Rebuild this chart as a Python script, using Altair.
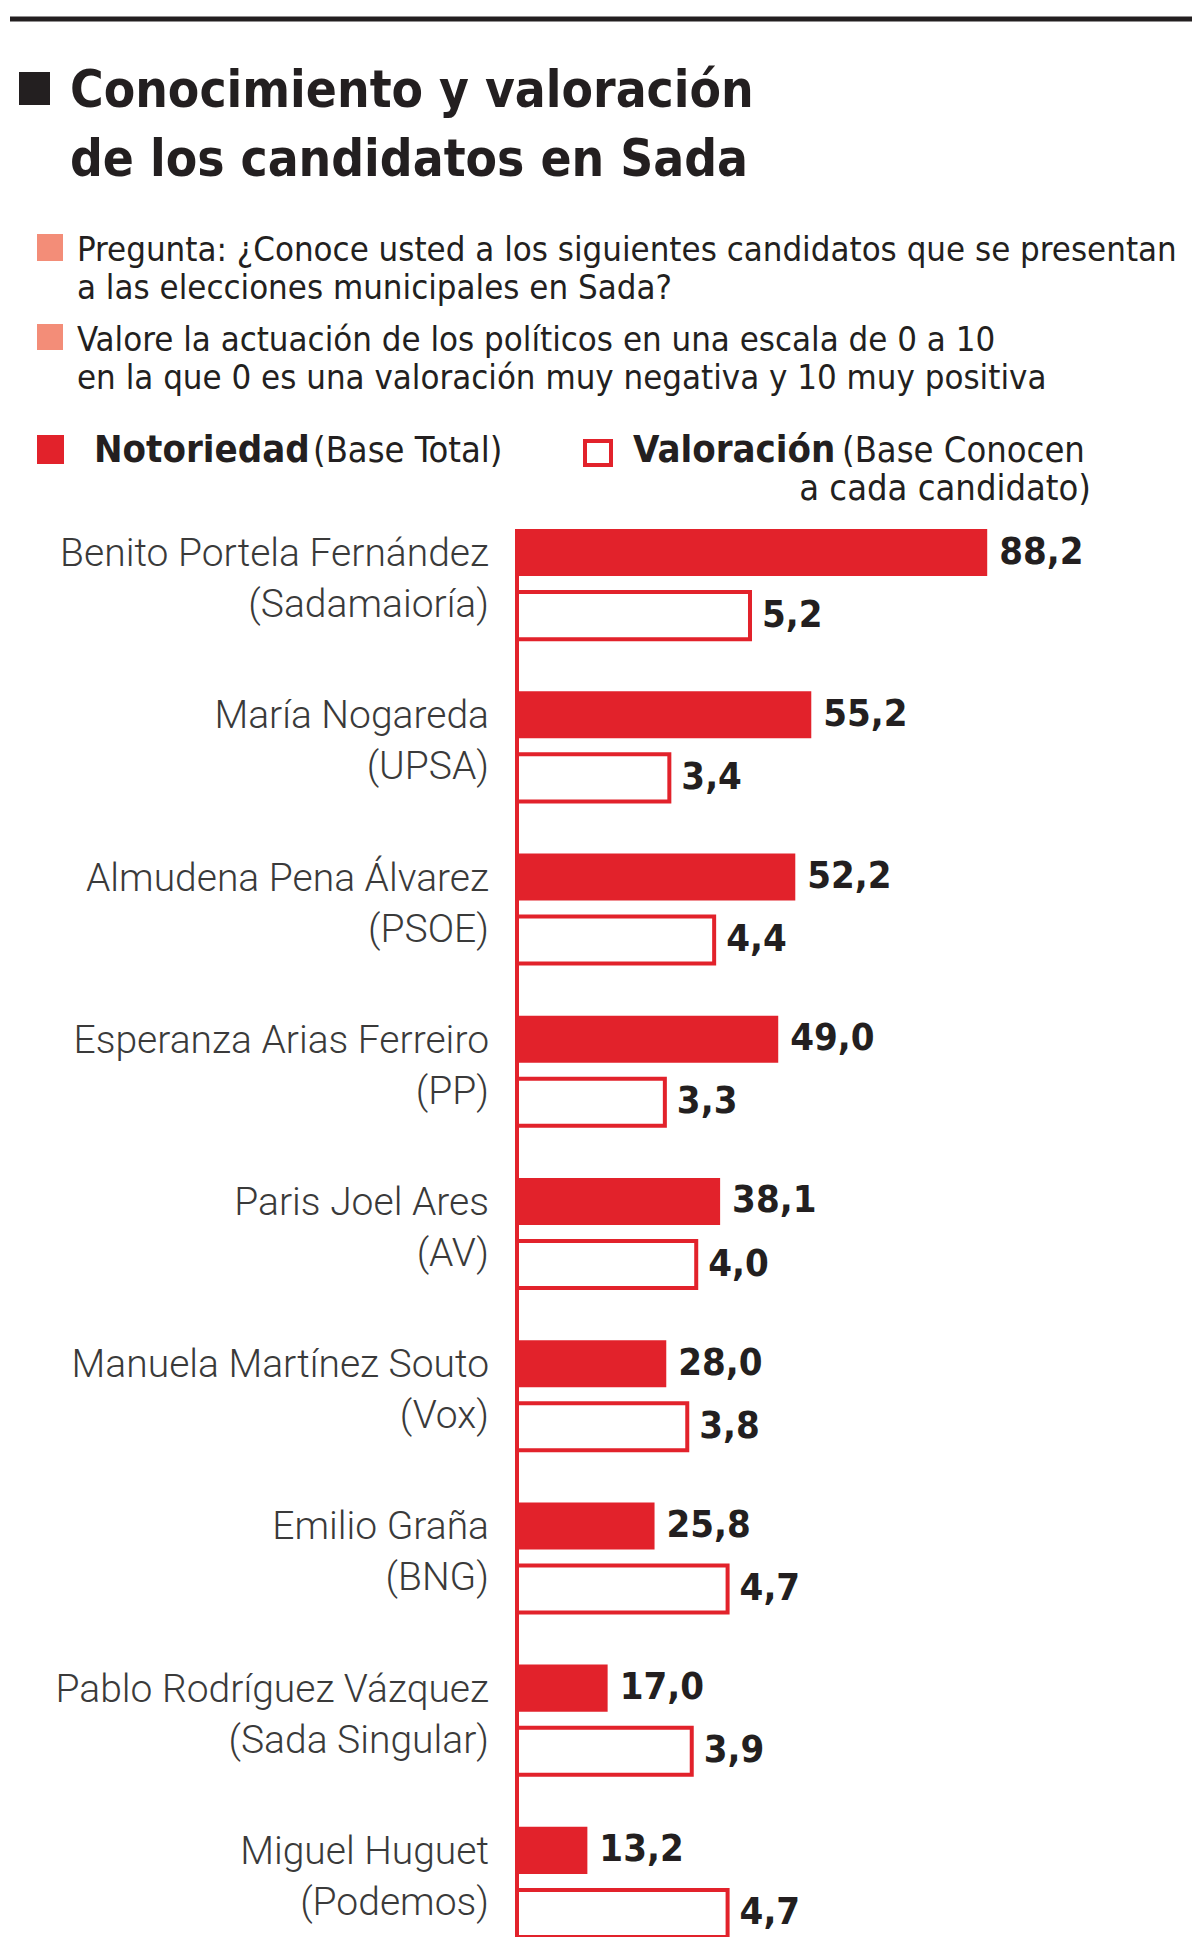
import altair as alt
import pandas as pd

# ---------------- data ----------------
candidatos = ["Benito Portela Fernández", "María Nogareda", "Almudena Pena Álvarez",
              "Esperanza Arias Ferreiro", "Paris Joel Ares", "Manuela Martínez Souto",
              "Emilio Graña", "Pablo Rodríguez Vázquez", "Miguel Huguet"]
partidos = ["(Sadamaioría)", "(UPSA)", "(PSOE)", "(PP)", "(AV)", "(Vox)", "(BNG)",
            "(Sada Singular)", "(Podemos)"]
notoriedad = [88.2, 55.2, 52.2, 49.0, 38.1, 28.0, 25.8, 17.0, 13.2]
valoracion = [5.2, 3.4, 4.4, 3.3, 4.0, 3.8, 4.7, 3.9, 4.7]

titulo = ["Conocimiento y valoración", "de los candidatos en Sada"]
preguntas = ["Pregunta: ¿Conoce usted a los siguientes candidatos que se presentan",
             "a las elecciones municipales en Sada?",
             "Valore la actuación de los políticos en una escala de 0 a 10",
             "en la que 0 es una valoración muy negativa y 10 muy positiva"]


def fmt(v):
    return f"{v:.1f}".replace(".", ",")


df = pd.DataFrame({
    "candidato": candidatos,
    "partido": partidos,
    "notoriedad": notoriedad,
    "valoracion": valoracion,
    "not_lbl": [fmt(v) for v in notoriedad],
    "val_lbl": [fmt(v) for v in valoracion],
    "s_n": ["N"] * len(candidatos),
    "s_v": ["V"] * len(candidatos),
})

# ---------------- style ----------------
RED = "#e2222b"
BLACK = "#231f20"
SALMON = "#f38d78"
GREY = "#3a3a3a"
NARROW = "Liberation Sans Narrow, Arial Narrow, DejaVu Sans Condensed, Roboto Condensed, sans-serif"
LABEL = "Roboto, Open Sans, sans-serif"

W, H = 660, 1408
yscale = alt.Scale(domain=candidatos, paddingInner=0.321, paddingOuter=0)
offscale = alt.Scale(domain=["N", "V"], paddingInner=0.254, paddingOuter=0)
xN = alt.Scale(domain=[0, 123.8], nice=False, zero=True)
xV = alt.Scale(domain=[0, 14.73], nice=False, zero=True)

Y = alt.Y("candidato:N", scale=yscale, axis=None)

base = alt.Chart(df)

bar_n = base.mark_bar(color=RED).encode(
    y=Y, yOffset=alt.YOffset("s_n:N", scale=offscale),
    x=alt.X("notoriedad:Q", scale=xN, axis=None))
txt_n = base.mark_text(align="left", baseline="middle", dx=12, font=NARROW,
                       fontWeight="bold", fontSize=38, color=BLACK).encode(
    y=Y, yOffset=alt.YOffset("s_n:N", scale=offscale),
    x=alt.X("notoriedad:Q", scale=xN, axis=None), text="not_lbl:N")

bar_v = base.mark_bar(fill="white", stroke=RED, strokeWidth=4).encode(
    y=Y, yOffset=alt.YOffset("s_v:N", scale=offscale),
    x=alt.X("valoracion:Q", scale=xV, axis=None))
txt_v = base.mark_text(align="left", baseline="middle", dx=12, font=NARROW,
                       fontWeight="bold", fontSize=38, color=BLACK).encode(
    y=Y, yOffset=alt.YOffset("s_v:N", scale=offscale),
    x=alt.X("valoracion:Q", scale=xV, axis=None), text="val_lbl:N")

name_lbl = base.mark_text(align="right", baseline="middle", dx=-28, dy=-30, font=LABEL,
                          fontWeight=300, fontSize=39, color=GREY).encode(
    x=alt.value(0), y=Y, text="candidato:N")
party_lbl = base.mark_text(align="right", baseline="middle", dx=-28, dy=21, font=LABEL,
                           fontWeight=300, fontSize=39, color=GREY).encode(
    x=alt.value(0), y=Y, text="partido:N")

one = alt.Data(values=[{"k": 1}])


def rect(x1, x2, y1, y2, **kw):
    return alt.Chart(one).mark_rect(**kw).encode(
        x=alt.value(x1), x2=alt.value(x2), y=alt.value(y1), y2=alt.value(y2))


def text(t, x, y, **kw):
    return alt.Chart(one).mark_text(text=t, baseline="alphabetic", **kw).encode(
        x=alt.value(x), y=alt.value(y))


axis_rule = alt.Chart(one).mark_rule(color=RED, strokeWidth=4).encode(
    x=alt.value(0), y=alt.value(0), y2=alt.value(H))
top_rule = alt.Chart(one).mark_rule(color=BLACK, strokeWidth=5).encode(
    x=alt.value(-507), x2=alt.value(675), y=alt.value(-510))

deco = [
    top_rule,
    rect(-498, -467, -457, -424, color=BLACK),
    text(titulo[0], -447, -422, font=NARROW, fontWeight=900, fontSize=51, color=BLACK, align="left"),
    text(titulo[1], -447, -353, font=NARROW, fontWeight=900, fontSize=51, color=BLACK, align="left"),
    rect(-480, -454, -295, -268, color=SALMON),
    rect(-480, -454, -205, -179, color=SALMON),
    text(preguntas[0], -440, -268, font=NARROW, fontSize=34.5, color=BLACK, align="left"),
    text(preguntas[1], -440, -230, font=NARROW, fontSize=34.5, color=BLACK, align="left"),
    text(preguntas[2], -440, -178, font=NARROW, fontSize=34.5, color=BLACK, align="left"),
    text(preguntas[3], -440, -140, font=NARROW, fontSize=34.5, color=BLACK, align="left"),
    rect(-480, -453, -94, -65, color=RED),
    text("Notoriedad", -423, -67, font=NARROW, fontWeight="bold", fontSize=38, color=BLACK, align="left"),
    text("(Base Total)", -204, -67, font=NARROW, fontSize=36, color=BLACK, align="left"),
    rect(68, 94, -88, -64, fill="white", stroke=RED, strokeWidth=4),
    text("Valoración", 116, -67, font=NARROW, fontWeight="bold", fontSize=38, color=BLACK, align="left"),
    text("(Base Conocen", 325, -67, font=NARROW, fontSize=36, color=BLACK, align="left"),
    text("a cada candidato)", 574, -29, font=NARROW, fontSize=36, color=BLACK, align="right"),
]

bars = alt.layer(bar_n, txt_n, bar_v, txt_v, name_lbl, party_lbl, axis_rule).resolve_scale(x="independent")

chart = alt.layer(bars, *deco).properties(
    width=W, height=H,
    padding={"left": 509, "top": 521, "right": 15, "bottom": 0},
    autosize=alt.AutoSizeParams(type="none"),
    background="white",
).configure_view(strokeWidth=0)

chart.save("out.html", embed_options={"renderer": "svg", "actions": False})
